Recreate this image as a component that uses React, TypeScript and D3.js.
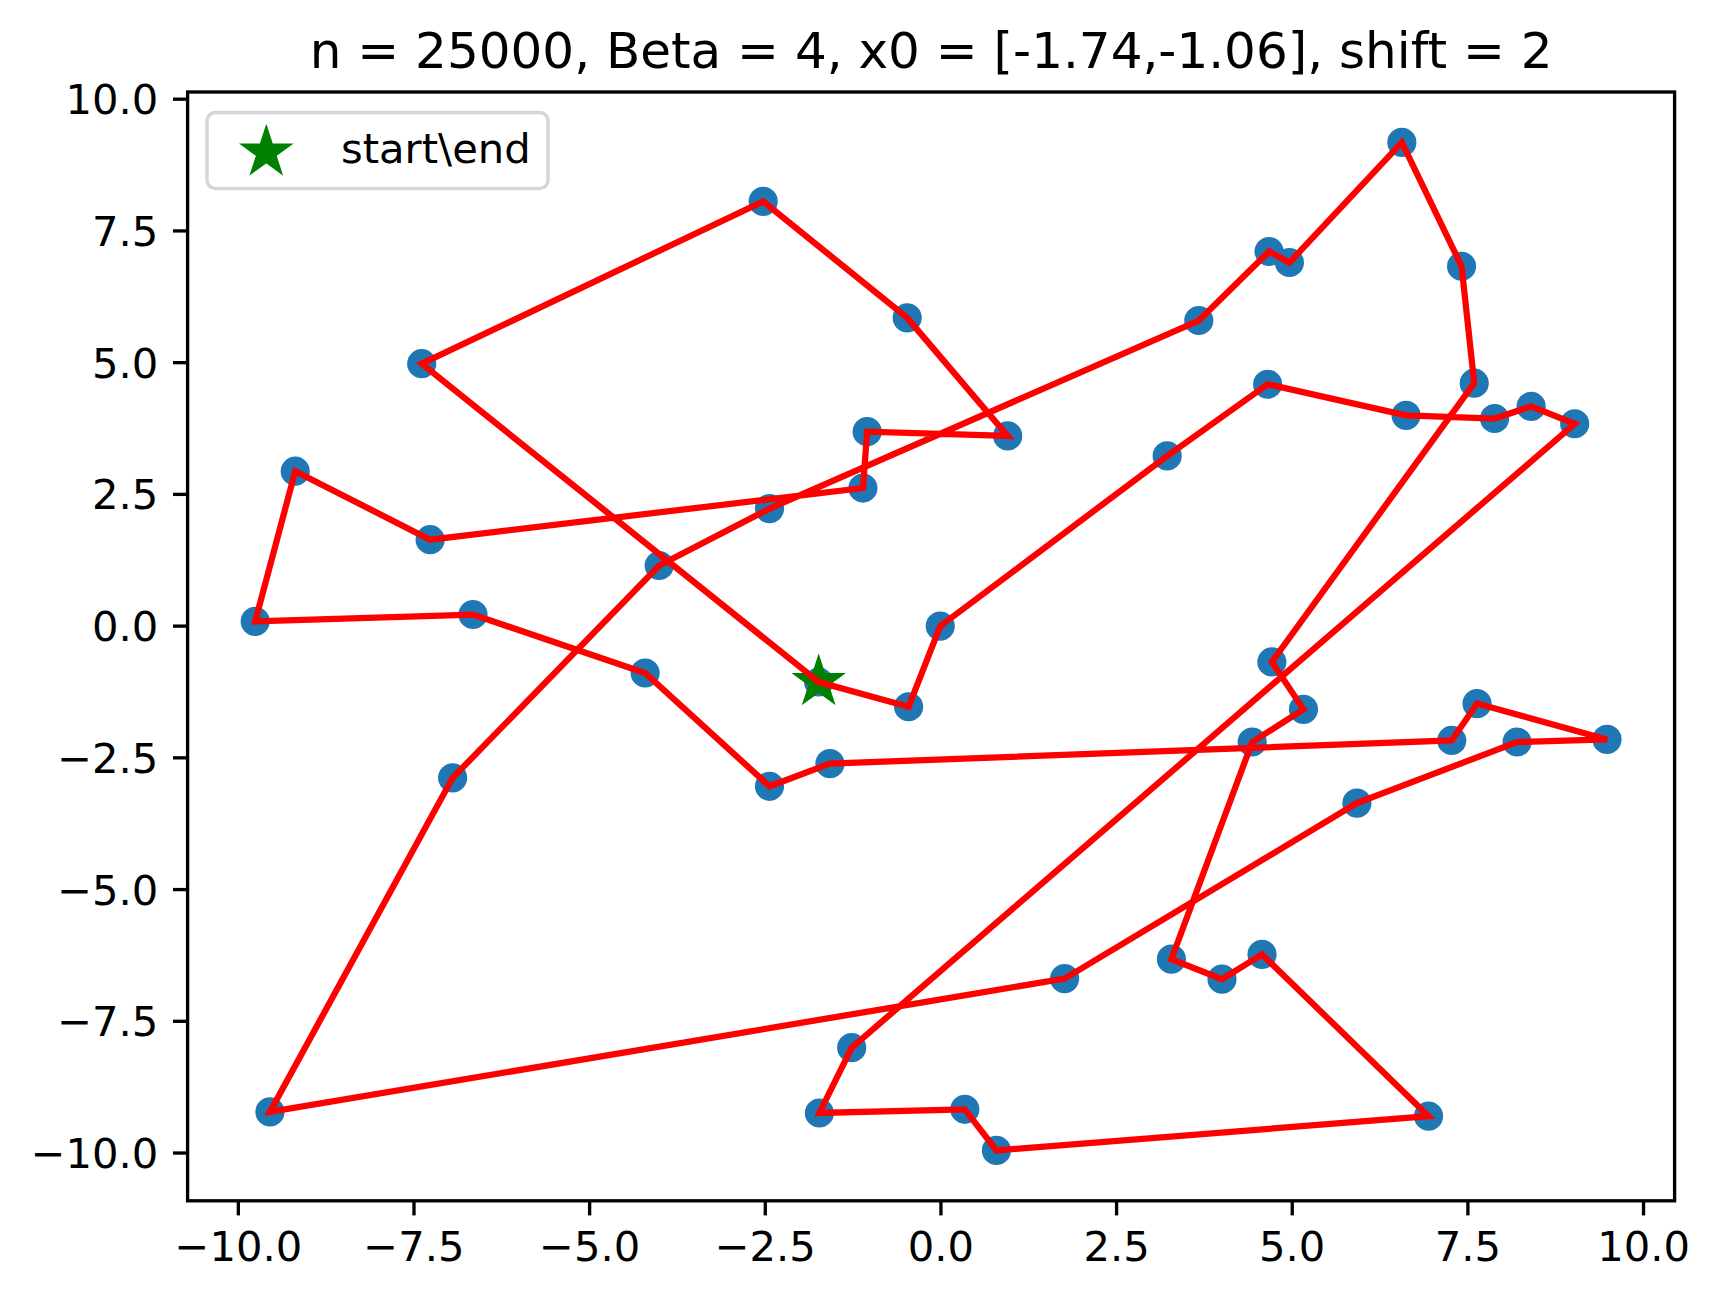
import React, { useEffect, useRef } from 'react';
import * as d3 from 'd3';

// tour order of the cities, the first one is x0 (start and end)
const tourX = [
  -1.74, -0.46, -0.01, 3.22, 4.65, 6.62, 7.88, 8.40, 9.02, -1.27,
  -1.73, 0.34, 0.79, 6.94, 4.57, 4.00, 3.28, 4.43, 5.16, 4.71,
  7.59, 7.41, 6.56, 4.96, 4.67, 3.67, -2.44, -4.01, -6.95, -9.55,
  1.76, 5.92, 8.20, 9.48, 7.63, 7.27, -1.58, -2.44, -4.21, -6.66,
  -9.76, -9.19, -7.27, -1.11, -1.05, 0.95, -0.48, -2.53, -7.39,
];
const tourY = [
  -1.06, -1.53, 0.00, 3.23, 4.59, 4.00, 3.94, 4.17, 3.84, -8.00,
  -9.24, -9.17, -9.95, -9.30, -6.23, -6.70, -6.32, -2.20, -1.58, -0.68,
  4.61, 6.83, 9.18, 6.90, 7.11, 5.80, 2.23, 1.15, -2.88, -9.22,
  -6.69, -3.36, -2.20, -2.15, -1.47, -2.17, -2.61, -3.04, -0.89, 0.22,
  0.09, 2.94, 1.64, 2.62, 3.69, 3.61, 5.85, 8.06, 4.98,
];
const startPoint: [number, number] = [-1.74, -1.06];

const xTicks = [-10, -7.5, -5, -2.5, 0, 2.5, 5, 7.5, 10];
const yTicks = [-10, -7.5, -5, -2.5, 0, 2.5, 5, 7.5, 10];

const titleText = 'n = 25000, Beta = 4, x0 = [-1.74,-1.06], shift = 2';
const legendLabel = 'start\\end';

const App: React.FC = () => {
  const svgRef = useRef<SVGSVGElement | null>(null);

  useEffect(() => {
    if (!svgRef.current) return;

    const width = 1721;
    const height = 1302;
    const box = { left: 187.6, right: 1674.6, top: 92, bottom: 1200.8 };
    const font = 'DejaVu Sans, sans-serif';

    const svg = d3.select(svgRef.current);
    svg.selectAll('*').remove();
    svg.attr('width', width).attr('height', height);

    // matplotlib style 5% margins around the data
    const pad = (ext: [number, number]) => {
      const m = (ext[1] - ext[0]) * 0.05;
      return [ext[0] - m, ext[1] + m];
    };
    const xExt = d3.extent(tourX) as [number, number];
    const yExt = d3.extent(tourY) as [number, number];

    const xScale = d3.scaleLinear().domain(pad(xExt)).range([box.left, box.right]);
    const yScale = d3.scaleLinear().domain(pad(yExt)).range([box.bottom, box.top]);

    const pts: [number, number][] = tourX.map((x, i) => [x, tourY[i]]);
    const closed = [...pts, pts[0]];

    const g = svg.append('g');

    // --- cities ---
    g.selectAll('.city').data(pts).enter().append('circle')
      .attr('cx', d => xScale(d[0])).attr('cy', d => yScale(d[1]))
      .attr('r', 12.5)
      .attr('fill', '#1f77b4').attr('stroke', '#1f77b4').attr('stroke-width', 4.17);

    // --- start / end star ---
    const star = d3.symbol().type(d3.symbolStar).size(640);
    g.append('path')
      .attr('d', star())
      .attr('transform', `translate(${xScale(startPoint[0])},${yScale(startPoint[1])})`)
      .attr('fill', '#008000').attr('stroke', '#008000').attr('stroke-width', 3);

    // --- tour ---
    const lineGen = d3.line<[number, number]>().x(d => xScale(d[0])).y(d => yScale(d[1]));
    g.append('path')
      .datum(closed)
      .attr('d', lineGen)
      .attr('fill', 'none').attr('stroke', '#ff0000').attr('stroke-width', 6.25)
      .attr('stroke-linejoin', 'miter').attr('stroke-linecap', 'square');

    // --- axes frame ---
    g.append('rect')
      .attr('x', box.left).attr('y', box.top)
      .attr('width', box.right - box.left).attr('height', box.bottom - box.top)
      .attr('fill', 'none').attr('stroke', '#000').attr('stroke-width', 3.33);

    const fmt = d3.format('.1f');

    // x ticks
    g.selectAll('.x-tick').data(xTicks).enter().append('line')
      .attr('x1', d => xScale(d)).attr('x2', d => xScale(d))
      .attr('y1', box.bottom).attr('y2', box.bottom + 14.6)
      .attr('stroke', '#000').attr('stroke-width', 3.33);
    g.selectAll('.x-label').data(xTicks).enter().append('text')
      .attr('x', d => xScale(d)).attr('y', 1261)
      .attr('text-anchor', 'middle')
      .attr('font-family', font).attr('font-size', 41.7).attr('fill', '#000')
      .text(d => fmt(d));

    // y ticks
    g.selectAll('.y-tick').data(yTicks).enter().append('line')
      .attr('x1', box.left - 14.6).attr('x2', box.left)
      .attr('y1', d => yScale(d)).attr('y2', d => yScale(d))
      .attr('stroke', '#000').attr('stroke-width', 3.33);
    g.selectAll('.y-label').data(yTicks).enter().append('text')
      .attr('x', box.left - 29.2).attr('y', d => yScale(d) + 15)
      .attr('text-anchor', 'end')
      .attr('font-family', font).attr('font-size', 41.7).attr('fill', '#000')
      .text(d => fmt(d));

    // title
    g.append('text')
      .attr('x', (box.left + box.right) / 2).attr('y', 68)
      .attr('text-anchor', 'middle')
      .attr('font-family', font).attr('font-size', 50).attr('fill', '#000')
      .text(titleText);

    // legend
    g.append('rect')
      .attr('x', 207).attr('y', 112.5).attr('width', 341).attr('height', 76)
      .attr('rx', 8.3).attr('ry', 8.3)
      .attr('fill', 'rgba(255,255,255,0.8)').attr('stroke', '#d6d6d6').attr('stroke-width', 3.5);
    g.append('path')
      .attr('d', star())
      .attr('transform', 'translate(266.3,152.4)')
      .attr('fill', '#008000').attr('stroke', '#008000').attr('stroke-width', 3);
    g.append('text')
      .attr('x', 341).attr('y', 163.3)
      .attr('font-family', font).attr('font-size', 41.7).attr('fill', '#000')
      .text(legendLabel);
  }, []);

  return (
    <div style={{ position: 'absolute', left: 0, top: 0, background: '#fff' }}>
      <svg ref={svgRef} width="1721" height="1302" style={{ display: 'block' }}></svg>
    </div>
  );
};

export default App;
